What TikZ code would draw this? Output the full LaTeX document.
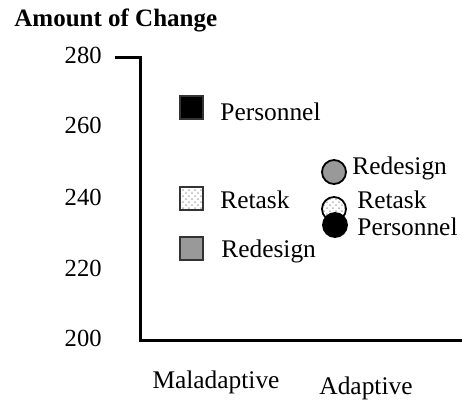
\documentclass[tikz,border=0pt]{standalone}
\usepackage{fontspec}
\setmainfont{Liberation Serif}
\usepackage[table]{xcolor}
\usetikzlibrary{patterns}

\begin{document}
\begin{tikzpicture}[x=0.5pt,y=-0.5pt,
  markbox/.style={draw=black!80,line width=1pt,minimum size=11.5pt,inner sep=0pt},
  markdot/.style={circle,draw=black,line width=0.9pt,minimum size=12pt,inner sep=0pt},
  lab/.style={anchor=west,inner sep=0pt,font=\fontsize{12.7}{14}\selectfont}]
\useasboundingbox (0,0) rectangle (462,403);
\node[anchor=west,inner sep=0pt,font=\bfseries\fontsize{12.5}{14}\selectfont] (title) at (14,20) {Amount of Change};
% axes
\draw[line width=1.5pt] (115,57) -- (141,57) -- (141,340) -- (462,340);
\foreach \v/\y in {280/55,260/125,240/197,220/268,200/338}
  \node[anchor=east,inner sep=0pt,font=\fontsize{12.3}{14}\selectfont] (tick\v) at (102,\y) {\v};
\node[inner sep=0pt,font=\fontsize{12.7}{14}\selectfont] (maladaptive) at (216,382) {Maladaptive};
\node[inner sep=0pt,font=\fontsize{12.7}{14}\selectfont] (adaptive) at (366,388) {Adaptive};
% maladaptive group
\node[markbox,fill=black] (malPers) at (192,107) {};
\node[lab] (malPersLab) at (220,112) {Personnel};
\node[markbox,pattern=crosshatch dots,pattern color=black!30] (malRetask) at (192,198) {};
\node[lab] (malRetaskLab) at (220,200) {Retask};
\node[markbox,fill=black!40] (malRedes) at (192,248) {};
\node[lab] (malRedesLab) at (221,251) {Redesign};
% adaptive group
\node[markdot,fill=black!40] (adRedes) at (334,172) {};
\node[lab] (adRedesLab) at (352,168) {Redesign};
\node[markdot,pattern=crosshatch dots,pattern color=black!30] (adRetask) at (334,209) {};
\node[markdot,fill=black] (adPers) at (335,225) {};
\node[lab] (adRetaskLab) at (357,200) {Retask};
\node[lab] (adPersLab) at (357,227) {Personnel};
\end{tikzpicture}
\end{document}
